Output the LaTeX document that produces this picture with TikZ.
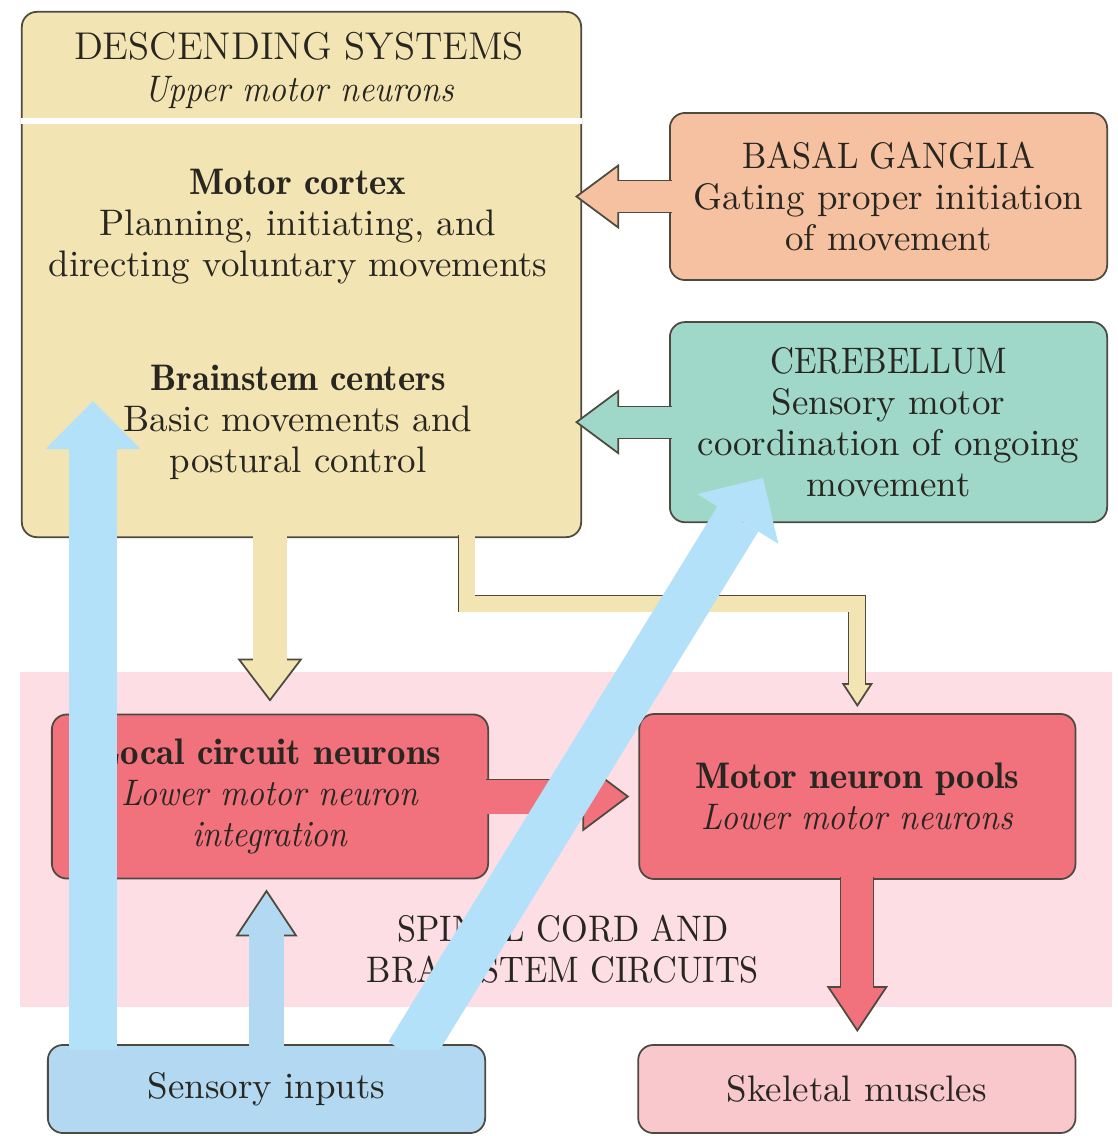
\documentclass[tikz,border=0pt]{standalone}
\usepackage{graphicx}
\usepackage{tikz}
\usetikzlibrary{arrows.meta}

\definecolor{edge}{RGB}{78,74,64}
\definecolor{ink}{RGB}{40,38,32}
\definecolor{descfill}{RGB}{243,229,179}
\definecolor{bgfill}{RGB}{246,193,160}
\definecolor{cbfill}{RGB}{159,216,200}
\definecolor{redfill}{RGB}{241,113,125}
\definecolor{band}{RGB}{252,222,228}
\definecolor{skelfill}{RGB}{248,200,205}
\definecolor{sensfill}{RGB}{178,217,241}
\definecolor{skyblue}{RGB}{179,225,250}

\newcommand\demi[1]{{\fontseries{b}\selectfont #1}}
\newcommand\capsfit[1]{\scalebox{0.93}[1]{#1}}
\newcommand\itfit[1]{\scalebox{0.9}[1]{\itshape #1}}

\begin{document}
\begin{tikzpicture}[x=0.01cm,y=0.01cm,text=ink,node distance=2cm,
    font=\fontsize{10.5}{11.7}\selectfont]
  \tikzstyle{box}=[draw=edge,line width=0.5pt,rounded corners=0.15cm,
    align=center,inner sep=0pt]
  \tikzstyle{txt}=[align=center,inner sep=0pt,anchor=north]
  % fill, shaft, head width, head length, gap
  \tikzset{blk/.style n args={5}{
      preaction={draw=edge,line width=#2+0.5pt,shorten >=#5,
        -{Triangle[length=#4,width=#3,fill=#1,line width=0.5pt]}},
      draw=#1,line width=#2,shorten >=#4+#5-0.03cm,shorten <=-0.03cm}}
  \tikzstyle{sky}=[draw=skyblue,line width=0.48cm,shorten <=-0.12cm,
    -{Triangle[length=0.48cm,width=0.95cm,line width=0pt]}]

  \useasboundingbox (0,0) rectangle (1117,-1136);
  \fill[band] (20,-672) rectangle (1112,-1007);

  \node[box,fill=descfill,minimum width=5.59cm,minimum height=5.25cm]
    (desc) at (301.5,-274.5) {};
  \node[box,fill=bgfill,minimum width=4.37cm,minimum height=1.67cm]
    (bg) at (888.5,-196.5) {\capsfit{BASAL GANGLIA}\\Gating proper initiation\\of movement};
  \node[box,fill=cbfill,minimum width=4.37cm,minimum height=2cm]
    (cb) [below of=bg,node distance=2.255cm]
    {\scalebox{0.9}[1]{CEREBELLUM}\\Sensory motor\\coordination of ongoing\\movement};
  \node[box,fill=redfill,minimum width=4.36cm,minimum height=1.64cm]
    (local) at (270,-796.5)
    {\demi{Local circuit neurons}\\\itfit{Lower motor neuron}\\\itfit{integration}};
  \node[box,fill=redfill,minimum width=4.36cm,minimum height=1.65cm]
    (pools) [right of=local,node distance=5.87cm]
    {\demi{Motor neuron pools}\\\itfit{Lower motor neurons}};
  \node[box,fill=sensfill,minimum width=4.37cm,minimum height=0.88cm]
    (sens) at (266.5,-1089) {Sensory inputs};
  \node[box,fill=skelfill,minimum width=4.37cm,minimum height=0.88cm]
    (skel) [right of=sens,node distance=5.9cm] {Skeletal muscles};

  \coordinate (hdr) at (0,-121);
  \coordinate (bend) at (466.5,-603.5);
  \coordinate (bs) at (93,-401);
  \coordinate (cbtip) at (763,-478);
  \draw[white,line width=0.06cm] (desc.west |- hdr) -- (desc.east |- hdr);

  \node[txt] (title) at (299,-32)
    {{\fontsize{11}{11.7}\selectfont DESCENDING SYSTEMS}\\\itfit{Upper motor neurons}};
  \node[txt] (mc) at (298,-168)
    {\demi{Motor cortex}\\Planning, initiating, and\\directing voluntary movements};
  \node[txt] (bc) at (298,-364)
    {\demi{Brainstem centers}\\Basic movements and\\postural control};
  \node[txt] (spinal) at (563,-914) {\capsfit{SPINAL CORD AND}\\\capsfit{BRAINSTEM CIRCUITS}};

  \draw[blk={bgfill}{0.31cm}{0.65cm}{0.44cm}{-0.07cm}] (bg.west) -- (bg.west -| desc.east);
  \draw[blk={cbfill}{0.31cm}{0.65cm}{0.44cm}{-0.07cm}] (cb.west) -- (cb.west -| desc.east);
  \draw[blk={descfill}{0.33cm}{0.65cm}{0.43cm}{0.12cm}] (desc.south -| local.north) -- (local.north);
  \draw[blk={descfill}{0.16cm}{0.31cm}{0.24cm}{0.06cm}]
    (desc.south -| bend) |- (pools.north |- bend) -- (pools.north);
  \draw[blk={redfill}{0.34cm}{0.70cm}{0.47cm}{0.09cm}] (local.east) -- (local.east -| pools.west);
  \draw[blk={redfill}{0.32cm}{0.61cm}{0.46cm}{0.12cm}] (pools.south) -- (pools.south |- skel.north);
  \draw[blk={sensfill}{0.34cm}{0.62cm}{0.47cm}{0.10cm}] (sens.north) -- (sens.north |- local.south);

  \begin{scope}
    \clip (0,0) rectangle (1117,-1049);
    \draw[sky] (sens.north -| bs) -- (bs);
    \draw[sky] ([xshift=1.485cm]sens.north) -- (cbtip);
  \end{scope}
\end{tikzpicture}
\end{document}
